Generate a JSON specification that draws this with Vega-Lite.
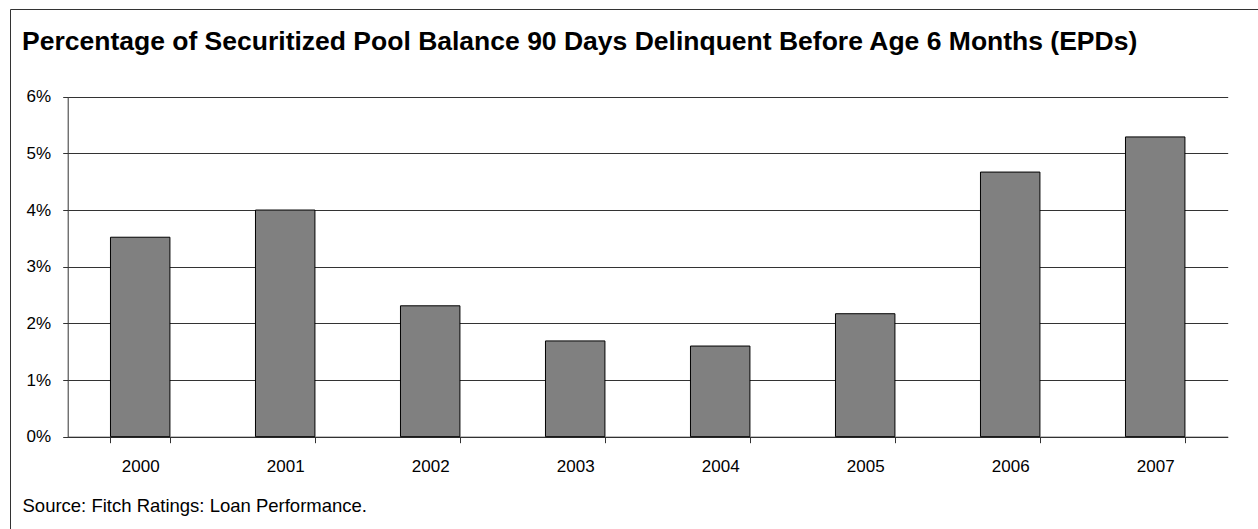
{
  "$schema": "https://vega.github.io/schema/vega-lite/v6.json",
  "width": 1250,
  "height": 522,
  "autosize": {"type": "none"},
  "padding": {"left": 10, "top": 9, "right": 0, "bottom": 0},
  "background": "white",
  "title": {
    "text": "Percentage of Securitized Pool Balance 90 Days Delinquent Before Age 6 Months (EPDs)",
    "anchor": "start",
    "frame": "group",
    "orient": "top",
    "offset": -40,
    "dx": 12,
    "dy": 27,
    "baseline": "alphabetic",
    "font": "Liberation Sans",
    "fontSize": 26.5,
    "fontWeight": "bold",
    "color": "#000000"
  },
  "data": {
    "values": [
      {"year": "2000", "pct": 3.52},
      {"year": "2001", "pct": 4.0},
      {"year": "2002", "pct": 2.31},
      {"year": "2003", "pct": 1.69},
      {"year": "2004", "pct": 1.6},
      {"year": "2005", "pct": 2.17},
      {"year": "2006", "pct": 4.67},
      {"year": "2007", "pct": 5.29}
    ]
  },
  "mark": {"type": "bar", "fill": "#808080", "stroke": "#000000", "strokeWidth": 1},
  "encoding": {
    "x": {
      "field": "year",
      "type": "ordinal",
      "scale": {"range": [57.7, 1217.7], "paddingInner": 0.59, "paddingOuter": 0.295},
      "axis": {
        "orient": "bottom",
        "offset": -94.3,
        "tickBand": "extent",
        "labelAngle": 0,
        "tickSize": 6,
        "labelPadding": 16,
        "domainColor": "#333333",
        "tickColor": "#333333",
        "grid": false,
        "labelFont": "Liberation Sans",
        "labelFontSize": 17,
        "labelColor": "#000000",
        "title": "Source: Fitch Ratings: Loan Performance.",
        "titleX": 12,
        "titleY": 75,
        "titleAlign": "left",
        "titleAnchor": "start",
        "titleBaseline": "alphabetic",
        "titleFont": "Liberation Sans",
        "titleFontSize": 18.5,
        "titleFontWeight": "normal",
        "titleColor": "#000000"
      }
    },
    "y": {
      "field": "pct",
      "type": "quantitative",
      "scale": {"domain": [0, 6], "range": [427.7, 87.7], "nice": false, "zero": true},
      "axis": {
        "orient": "left",
        "offset": -57.7,
        "values": [0, 1, 2, 3, 4, 5, 6],
        "labelExpr": "datum.value + '%'",
        "title": null,
        "grid": true,
        "gridColor": "#333333",
        "gridWidth": 1,
        "domainColor": "#333333",
        "tickColor": "#333333",
        "tickSize": 5,
        "labelPadding": 12,
        "labelFont": "Liberation Sans",
        "labelFontSize": 17,
        "labelColor": "#000000"
      }
    }
  },
  "config": {"view": {"stroke": "#333333", "strokeWidth": 1}}
}
